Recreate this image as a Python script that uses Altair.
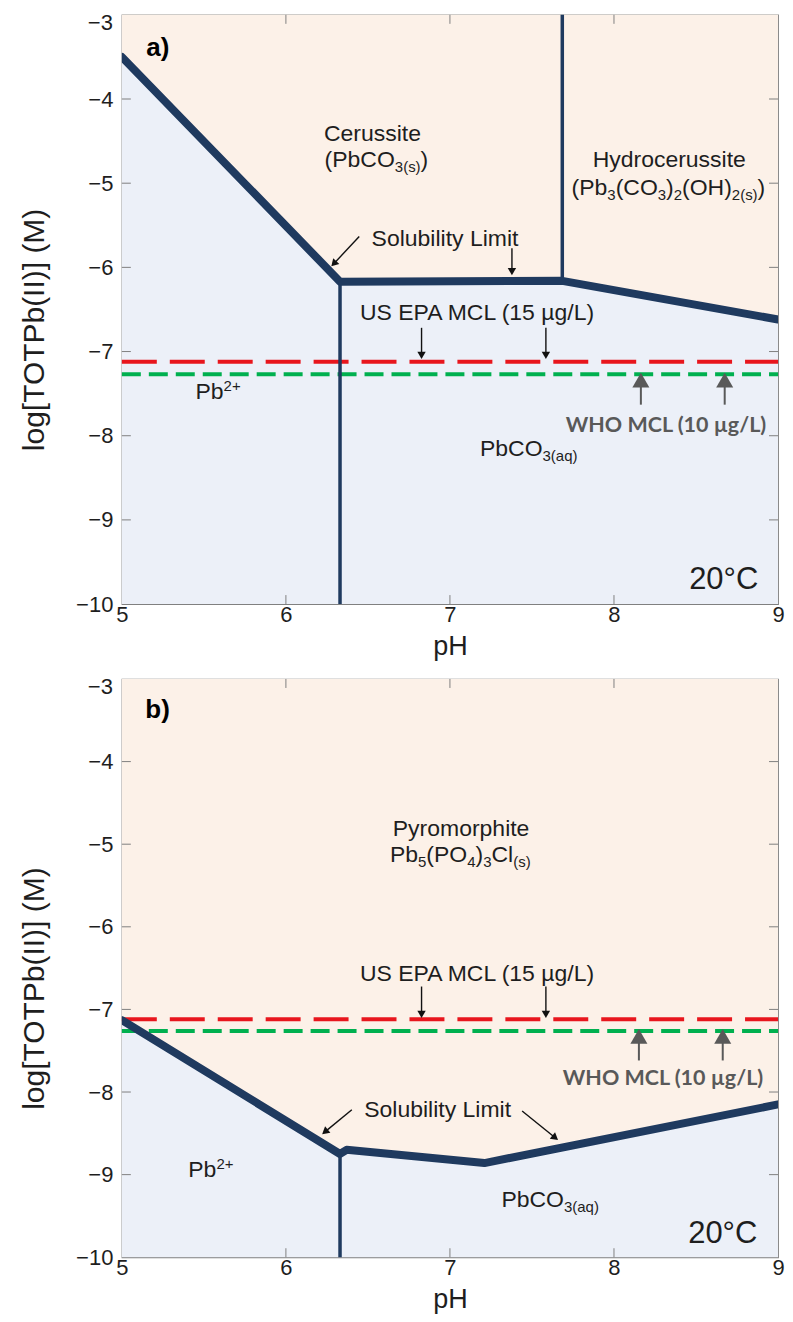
import math
import altair as alt
import pandas as pd

# ---------------- data ----------------
PH_TICKS = [5, 6, 7, 8, 9]
LOG_TICKS = [-10, -9, -8, -7, -6, -5, -4]
TOP_TICK = -3
INNER_X_TICKS = [6, 7, 8]
INNER_Y_TICKS = [-9, -8, -7, -6, -5, -4]

# panel a) : solubility limit (cerussite / hydrocerussite)
A_SOL_PH = [5.0, 6.33, 7.685, 9.0]
A_SOL_LOG = [-3.50, -6.17, -6.16, -6.62]
A_VLINE_PH = [6.33, 7.685]
A_VLINE_LO = [-10.0, -6.16]
A_VLINE_HI = [-6.17, -3.0]
A_EPA = -7.12
A_WHO = -7.27

# panel b) : solubility limit (pyromorphite)
B_SOL_PH = [5.0, 6.33, 6.37, 7.21, 9.0]
B_SOL_LOG = [-7.13, -8.75, -8.70, -8.86, -8.15]
B_VLINE_PH = [6.33]
B_VLINE_LO = [-10.0]
B_VLINE_HI = [-8.75]
B_EPA = -7.12
B_WHO = -7.26

# annotation arrows: (tail pH, tail log, tip pH, tip log)
A_BLACK_ARROWS = [(6.447, -5.633, 6.277, -5.988), (7.378, -5.772, 7.378, -6.094),
                  (6.827, -6.718, 6.827, -7.088), (7.585, -6.718, 7.585, -7.088)]
A_GRAY_ARROWS = [(8.164, -7.631, 8.164, -7.253), (8.675, -7.631, 8.675, -7.253)]
B_BLACK_ARROWS = [(6.402, -8.215, 6.221, -8.510), (7.440, -8.229, 7.659, -8.582),
                  (6.827, -6.723, 6.827, -7.104), (7.585, -6.723, 7.585, -7.104)]
B_GRAY_ARROWS = [(8.152, -7.618, 8.152, -7.236), (8.663, -7.618, 8.663, -7.236)]

# labels: (segments, anchor pH, anchor log (visual centre), align, font size)
A_LABELS = [
    ([("Cerussite", "n")], 6.528, -4.404, "center", 23),
    ([("(PbCO", "n"), ("3(s)", "sub"), (")", "n")], 6.552, -4.711, "center", 23),
    ([("Hydrocerussite", "n")], 8.337, -4.711, "center", 23),
    ([("(Pb", "n"), ("3", "sub"), ("(CO", "n"), ("3", "sub"), (")", "n"), ("2", "sub"),
      ("(OH)", "n"), ("2(s)", "sub"), (")", "n")], 8.332, -5.042, "center", 23),
    ([("Solubility Limit", "n")], 6.970, -5.645, "center", 23),
    ([("US EPA MCL (15 µg/L)", "n")], 7.177, -6.532, "center", 23),
    ([("Pb", "n"), ("2+", "sup")], 5.449, -7.466, "left", 23),
    ([("PbCO", "n"), ("3(aq)", "sub")], 7.183, -8.137, "left", 23),
    ([("20°C", "n")], 8.880, -9.689, "right", 31),
]
B_LABELS = [
    ([("Pyromorphite", "n")], 7.068, -4.795, "center", 23),
    ([("Pb", "n"), ("5", "sub"), ("(PO", "n"), ("4", "sub"), (")", "n"), ("3", "sub"),
      ("Cl", "n"), ("(s)", "sub")], 7.063, -5.116, "center", 23),
    ([("US EPA MCL (15 µg/L)", "n")], 7.177, -6.558, "center", 23),
    ([("Solubility Limit", "n")], 6.925, -8.208, "center", 23),
    ([("Pb", "n"), ("2+", "sup")], 5.405, -8.931, "left", 23),
    ([("PbCO", "n"), ("3(aq)", "sub")], 7.314, -9.293, "left", 23),
    ([("20°C", "n")], 8.874, -9.690, "right", 31),
]
A_PANEL_TAG = ("a)", 5.149, -3.398)
B_PANEL_TAG = ("b)", 5.143, -3.377)
WHO_TEXT = "WHO MCL (10 µg/L)"
A_WHO_POS = (8.317, -7.880)
B_WHO_POS = (8.299, -7.847)

# ---------------- style ----------------
W = 657
HA = 590
HB = 579
TOP_LABEL_DROP = 8  # px the "-3" label sits below the top corner
FONT = "Liberation Sans"
TXT = "#1e1e1e"
NAVY = "#1f3a5f"
PEACH = "#fcf1e8"
BLUE = "#ecf0f8"
RED = "#e8161d"
GREEN = "#00b04f"
FRAME = "#808080"
GRAYA = "#595959"

# Arial / Liberation Sans advance widths (per 1000 em)
AW = {" ": 278, "(": 333, ")": 333, "+": 584, "/": 278, "°": 400, "µ": 576,
      "A": 667, "C": 722, "E": 667, "H": 722, "I": 278, "L": 556, "M": 833, "O": 778,
      "P": 667, "S": 667, "U": 722, "W": 944, "a": 556, "b": 556, "c": 500, "d": 556,
      "e": 556, "g": 556, "h": 556, "i": 222, "l": 222, "m": 833, "o": 556, "p": 556,
      "q": 556, "r": 333, "s": 500, "t": 278, "u": 556, "y": 500}


def tw(s, fs):
    return sum(AW.get(c, 556) for c in s) * fs / 1000.0


XS = alt.Scale(domain=[5, 9], nice=False, zero=False)
YS = alt.Scale(domain=[-10, -3], nice=False, zero=False)
XAX = alt.Axis(values=PH_TICKS, format="d", title="pH", ticks=False, tickSize=0, domain=False,
               grid=False, labelFont=FONT, labelFontSize=22, labelColor=TXT, labelPadding=0,
               labelFlush=False, labelOverlap=False, titleFont=FONT, titleFontSize=27,
               titleFontWeight="normal", titleColor=TXT, titlePadding=8)


def yax(H):
    return alt.Axis(values=LOG_TICKS, format="d", title="log[TOTPb(II)] (M)", ticks=False,
                    tickSize=0, domain=False, grid=False, labelFont=FONT, labelFontSize=22,
                    labelColor=TXT, labelPadding=9, labelFlush=False, labelOverlap=False,
                    titleFont=FONT, titleFontSize=30, titleFontWeight="normal", titleColor=TXT,
                    titleAngle=270, titleX=-87, titleY=H / 2 + 20, titleAlign="center",
                    titleBaseline="middle")


def xenc(f):
    return alt.X(f, type="quantitative", scale=XS, axis=XAX)


def yenc(f, H):
    return alt.Y(f, type="quantitative", scale=YS, axis=yax(H))


def rich_rows(labels, H):
    pxx = W / 4.0
    pxy = H / 7.0
    rows = []
    for segs, cx, cy, align, fs in labels:
        sfs = round(fs * 0.65)
        widths = [tw(t, fs if k == "n" else sfs) for t, k in segs]
        total = sum(widths)
        cum = -total / 2 if align == "center" else (-total if align == "right" else 0.0)
        base = 0.36 * fs
        for (t, k), w in zip(segs, widths):
            off = base + (5 if k == "sub" else (-8 if k == "sup" else 0))
            rows.append({"x": cx + cum / pxx, "y": cy - off / pxy, "t": t,
                         "fs": fs if k == "n" else sfs})
            cum += w
    return pd.DataFrame(rows)


def arrow_frames(arrows, H, head_size):
    pxx = W / 4.0
    pxy = H / 7.0
    r = math.sqrt(head_size) / 2
    h = r * math.sqrt(3) / 2
    rows = []
    for x0, y0, x1, y1 in arrows:
        dxp = (x1 - x0) * pxx
        dyp = -(y1 - y0) * pxy
        L = math.hypot(dxp, dyp)
        ux, uy = dxp / L, dyp / L
        ang = math.degrees(math.atan2(dxp, -dyp)) % 360
        hx = x1 - h * ux / pxx
        hy = y1 + h * uy / pxy
        rows.append({"x0": x0, "y0": y0, "x1": hx, "y1": hy, "hx": hx, "hy": hy, "ang": ang})
    return pd.DataFrame(rows)


def panel(H, sol_ph, sol_log, vph, vlo, vhi, epa, who, black_arrows, gray_arrows,
          labels, tag, who_pos):
    n = len(sol_ph)
    adf = pd.DataFrame({"ph": sol_ph, "sol": sol_log, "lo": [-10.0] * n, "hi": [-3.0] * n,
                        "i": list(range(n))})
    layers = []
    layers.append(alt.Chart(adf).mark_area(color=BLUE, opacity=1).encode(
        x=xenc("ph"), y=yenc("lo", H), y2="sol"))
    layers.append(alt.Chart(adf).mark_area(color=PEACH, opacity=1).encode(
        x=xenc("ph"), y=yenc("sol", H), y2="hi"))
    # inner ticks
    tx = pd.DataFrame({"v": INNER_X_TICKS})
    ty = pd.DataFrame({"v": INNER_Y_TICKS})
    tick = dict(color=FRAME, strokeWidth=1)
    layers.append(alt.Chart(tx).mark_rule(**tick).encode(x=xenc("v"), y=alt.value(0), y2=alt.value(9)))
    layers.append(alt.Chart(tx).mark_rule(**tick).encode(x=xenc("v"), y=alt.value(H - 9), y2=alt.value(H)))
    layers.append(alt.Chart(ty).mark_rule(**tick).encode(y=yenc("v", H), x=alt.value(0), x2=alt.value(9)))
    layers.append(alt.Chart(ty).mark_rule(**tick).encode(y=yenc("v", H), x=alt.value(W - 9), x2=alt.value(W)))
    # top tick label (set slightly below the corner, as in the original)
    top_df = pd.DataFrame({"v": [TOP_TICK - TOP_LABEL_DROP * 7.0 / H], "t": ["\u22123"]})
    layers.append(alt.Chart(top_df).mark_text(
        align="right", baseline="middle", font=FONT, fontSize=22, color=TXT).encode(
        y=yenc("v", H), x=alt.value(-9), text="t:N"))
    # limits
    layers.append(alt.Chart(pd.DataFrame({"v": [epa]})).mark_rule(
        color=RED, strokeWidth=4, strokeDash=[35, 13]).encode(
        y=yenc("v", H), x=alt.value(0), x2=alt.value(W)))
    layers.append(alt.Chart(pd.DataFrame({"v": [who]})).mark_rule(
        color=GREEN, strokeWidth=4, strokeDash=[19, 8]).encode(
        y=yenc("v", H), x=alt.value(0), x2=alt.value(W)))
    # phase boundaries
    vdf = pd.DataFrame({"ph": vph, "lo": vlo, "hi": vhi})
    layers.append(alt.Chart(vdf).mark_rule(color=NAVY, strokeWidth=3.5).encode(
        x=xenc("ph"), y=yenc("lo", H), y2="hi"))
    layers.append(alt.Chart(adf).mark_line(color=NAVY, strokeWidth=8, strokeCap="round",
                                           strokeJoin="round", clip=True).encode(
        x=xenc("ph"), y=yenc("sol", H), order="i:Q"))
    # arrows
    bdf = arrow_frames(black_arrows, H, 70)
    layers.append(alt.Chart(bdf).mark_rule(color="#111111", strokeWidth=1.4).encode(
        x=xenc("x0"), y=yenc("y0", H), x2="x1", y2="y1"))
    layers.append(alt.Chart(bdf).mark_point(shape="triangle-up", filled=True, color="#111111",
                                            size=70, opacity=1).encode(
        x=xenc("hx"), y=yenc("hy", H), angle=alt.Angle("ang:Q", scale=None)))
    gdf = arrow_frames(gray_arrows, H, 290)
    layers.append(alt.Chart(gdf).mark_rule(color=GRAYA, strokeWidth=2).encode(
        x=xenc("x0"), y=yenc("y0", H), x2="x1", y2="y1"))
    layers.append(alt.Chart(gdf).mark_point(shape="triangle-up", filled=True, color=GRAYA,
                                            size=290, opacity=1).encode(
        x=xenc("hx"), y=yenc("hy", H), angle=alt.Angle("ang:Q", scale=None)))
    # labels
    ldf = rich_rows(labels, H)
    layers.append(alt.Chart(ldf).mark_text(align="left", baseline="alphabetic", font=FONT,
                                           color=TXT).encode(
        x=xenc("x"), y=yenc("y", H), text="t:N", size=alt.Size("fs:Q", scale=None)))
    tdf = pd.DataFrame({"x": [tag[1]], "y": [tag[2]], "t": [tag[0]]})
    layers.append(alt.Chart(tdf).mark_text(align="left", baseline="middle", font=FONT,
                                           fontWeight="bold", fontSize=26, color="#000000").encode(
        x=xenc("x"), y=yenc("y", H), text="t:N"))
    wdf = pd.DataFrame({"x": [who_pos[0]], "y": [who_pos[1]], "t": [WHO_TEXT]})
    layers.append(alt.Chart(wdf).mark_text(align="center", baseline="middle", font="Lato",
                                           fontWeight="bold", fontSize=21.5, color=GRAYA).encode(
        x=xenc("x"), y=yenc("y", H), text="t:N"))
    return alt.layer(*layers).properties(width=W, height=H)


pa = panel(HA, A_SOL_PH, A_SOL_LOG, A_VLINE_PH, A_VLINE_LO, A_VLINE_HI, A_EPA, A_WHO,
           A_BLACK_ARROWS, A_GRAY_ARROWS, A_LABELS, A_PANEL_TAG, A_WHO_POS)
pb = panel(HB, B_SOL_PH, B_SOL_LOG, B_VLINE_PH, B_VLINE_LO, B_VLINE_HI, B_EPA, B_WHO,
           B_BLACK_ARROWS, B_GRAY_ARROWS, B_LABELS, B_PANEL_TAG, B_WHO_POS)

chart = alt.vconcat(pa, pb, spacing=15).properties(
    padding={"left": 11, "top": 2, "right": 0, "bottom": 3},
    background="#ffffff",
).configure_view(stroke=FRAME, strokeWidth=1.2)

chart.save("out.html", embed_options={"renderer": "svg", "actions": False})
